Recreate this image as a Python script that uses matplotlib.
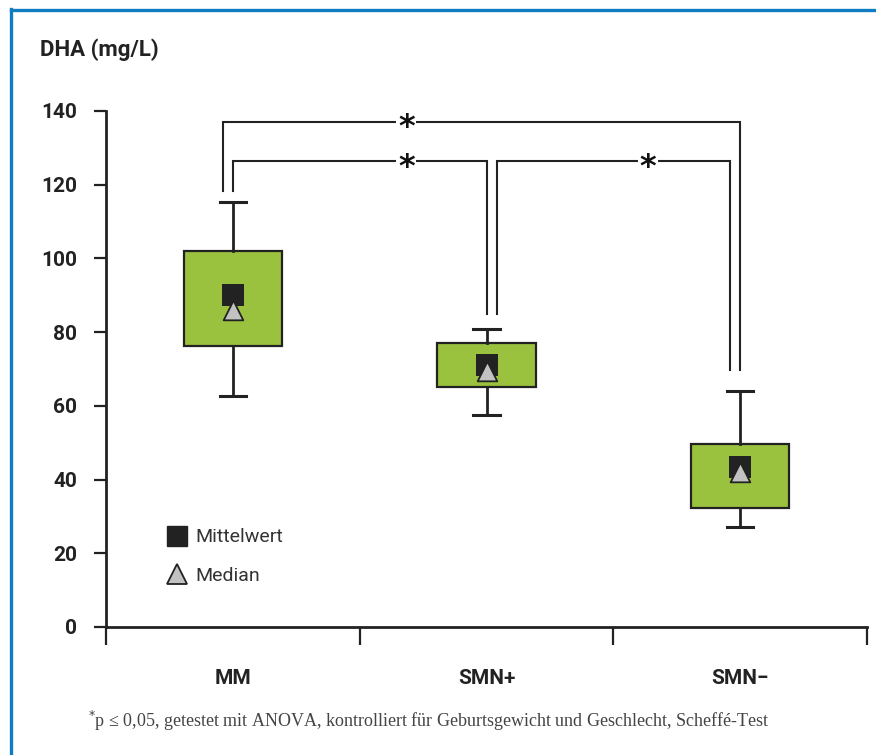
import matplotlib
matplotlib.use("Agg")
import matplotlib.pyplot as plt
from matplotlib.lines import Line2D

# Data (DHA in mg/L)
groups = ["MM", "SMN+", "SMN\u2212"]
whisker_low = [62.8, 57.6, 27.1]
q1 = [76.3, 65.0, 32.2]
q3 = [102.1, 77.1, 49.7]
whisker_high = [115.2, 80.8, 64.0]
means = [90.2, 71.1, 43.5]
medians = [86.1, 69.5, 42.0]
yticks = [0, 20, 40, 60, 80, 100, 120, 140]

# Significance brackets: (left x, right x, height)
brackets = [(0.46, 2.50, 137.0), (0.50, 1.50, 126.3), (1.54, 2.46, 126.3)]
bracket_leg_ends = [(118.4, 69.6), (118.4, 85.0), (85.0, 69.6)]
star_x = [1.184, 1.184, 2.136]

W, H = 876, 755
fig = plt.figure(figsize=(W / 100, H / 100), dpi=100)
plt.rcParams["font.family"] = ["Roboto", "DejaVu Sans"]

ax = fig.add_axes([106 / W, 128 / H, 761 / W, 516 / H])
ax.set_xlim(0, 3)
ax.set_ylim(0, 140)

dark = "#222222"
green = "#9bc23f"
positions = [0.5, 1.5, 2.5]

stats = []
for i, g in enumerate(groups):
    stats.append(dict(label=g, med=medians[i], q1=q1[i], q3=q3[i],
                      whislo=whisker_low[i], whishi=whisker_high[i],
                      mean=means[i], fliers=[]))

ax.bxp(stats, positions=positions, widths=0.387, patch_artist=True,
       showmeans=False, showfliers=False, manage_ticks=False,
       boxprops=dict(facecolor=green, edgecolor=dark, linewidth=1.6),
       whiskerprops=dict(color=dark, linewidth=2.0),
       capprops=dict(color=dark, linewidth=2.2),
       capwidths=0.103,
       medianprops=dict(visible=False), zorder=2)

ax.scatter(positions, means, marker="s", s=230, color=dark, zorder=4,
           linewidths=0)
ax.scatter(positions, medians, marker="^", s=200, color="#c2c2c2",
           edgecolors=dark, linewidths=1.3, zorder=5)

# Significance brackets
for (x0, x1, h), (e0, e1), sx in zip(brackets, bracket_leg_ends, star_x):
    ax.plot([x0, x0, x1, x1], [e0, h, h, e1], color=dark, lw=1.5,
            solid_joinstyle="miter", clip_on=False, zorder=3)
    ax.text(sx, h, "*", ha="center", va="center", fontsize=23,
            fontweight="bold", color="#111111", family="DejaVu Sans",
            zorder=5, transform=ax.transData +
            matplotlib.transforms.ScaledTranslation(0, -4 / 72,
                                                    fig.dpi_scale_trans))
    # white gap in the bracket line behind the asterisk
    ax.plot([sx - 0.04, sx + 0.04], [h, h], color="white", lw=3,
            solid_capstyle="butt", clip_on=False, zorder=4)

# Axes styling
for side in ("top", "right"):
    ax.spines[side].set_visible(False)
for side in ("left", "bottom"):
    ax.spines[side].set_color(dark)
    ax.spines[side].set_linewidth(2.0)

ax.set_yticks(yticks)
ax.set_yticklabels([str(v) for v in yticks])
ax.tick_params(axis="y", direction="out", length=8.6, width=1.6,
               color=dark, pad=12, labelsize=15, labelcolor=dark)
for lbl in ax.get_yticklabels():
    lbl.set_fontweight("bold")

ax.set_xticks([0, 1, 2, 3])
ax.set_xticklabels([])
ax.tick_params(axis="x", which="major", direction="out", length=13,
               width=1.6, color=dark)
ax.set_xticks(positions, minor=True)
ax.set_xticklabels(groups, minor=True)
ax.tick_params(axis="x", which="minor", length=0, pad=30,
               labelsize=15, labelcolor=dark)
for lbl in ax.get_xticklabels(minor=True):
    lbl.set_fontweight("bold")

# Legend
legend_handles = [
    Line2D([], [], marker="s", linestyle="none", markersize=14,
           markerfacecolor=dark, markeredgecolor=dark),
    Line2D([], [], marker="^", linestyle="none", markersize=15,
           markerfacecolor="#c2c2c2", markeredgecolor=dark,
           markeredgewidth=1.3),
]
leg = ax.legend(legend_handles, ["Mittelwert", "Median"], loc="upper left",
                bbox_to_anchor=(0.055, 0.225), frameon=False,
                prop=dict(size=14), labelspacing=1.05, handletextpad=0.35,
                handlelength=1.2, labelcolor="#333333")

# Title of the value axis
fig.text(40 / W, 1 - 50 / H, "DHA (mg/L)", ha="left", va="center",
         fontsize=16, fontweight="bold", color=dark)

# Footnote
fig.text(88 / W, 1 - 721 / H,
         "$^{*}$p \u2264 0,05, getestet mit ANOVA, kontrolliert f\u00fcr "
         "Geburtsgewicht und Geschlecht, Scheff\u00e9-Test",
         ha="left", va="center", fontsize=13, color="#444444",
         family=["Liberation Serif", "DejaVu Serif"])

# Blue frame lines along the top and left edges
blue = "#0f7dc2"
fig.add_artist(Line2D([10.5 / W, 1.0], [1 - 10 / H, 1 - 10 / H],
                      color=blue, lw=2.4, transform=fig.transFigure))
fig.add_artist(Line2D([11 / W, 11 / W], [0, 1 - 9 / H],
                      color=blue, lw=2.4, transform=fig.transFigure))

fig.savefig("out.png", dpi=100)
